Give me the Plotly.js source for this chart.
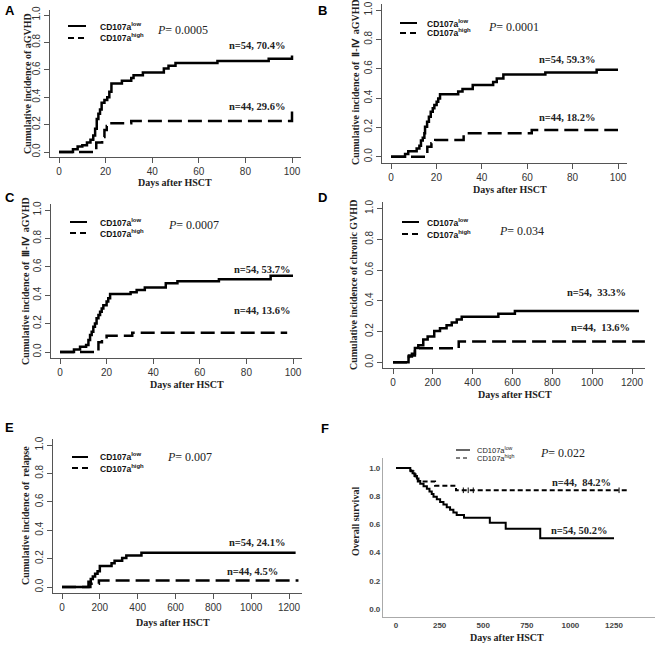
<!DOCTYPE html>
<html><head><meta charset="utf-8">
<script src="https://cdn.plot.ly/plotly-3.0.1.min.js"></script>
<style>html,body{margin:0;padding:0;background:#fff}</style>
</head><body><div id="chart" style="width:661px;height:645px"></div>
<script>
// ---- data ----
const seriesNames = ["CD107a<sup>low</sup>", "CD107a<sup>high</sup>"];
const panelLetters = ["A","B","C","D","E","F"];
const pValues = ["0.0005","0.0001","0.0007","0.034","0.007","0.022"];
const yTitles = ["Cumulative incidence of aGVHD","Cumulative incidence of \u00a0Ⅱ-Ⅳ\u00a0 aGVHD","Cumulative incidence of \u00a0Ⅲ-Ⅳ\u00a0 aGVHD","Cumulative incidence of chronic GVHD","Cumulative incidence of \u00a0relapse","Overall survival"];
const xTitle = "Days after HSCT";
const lowLabels = ["n=54, 70.4%","n=54, 59.3%","n=54, 53.7%","n=54, \u00a033.3%","n=54, 24.1%","n=54, 50.2%"];
const highLabels = ["n=44, 29.6%","n=44, 18.2%","n=44, 13.6%","n=44, \u00a013.6%","n=44, 4.5%","n=44, \u00a084.2%"];

const aLowX = [0, 6, 8, 10, 12, 13.5, 14.7, 15.5, 16.2, 16.9, 17.6, 18.3, 19.5, 20.7, 21.6, 22.5, 27, 31, 32, 36, 45, 47, 50, 68, 90, 100];
const aLowY = [0, 0.02, 0.04, 0.05, 0.07, 0.09, 0.12, 0.17, 0.24, 0.28, 0.31, 0.36, 0.38, 0.40, 0.44, 0.50, 0.52, 0.54, 0.56, 0.58, 0.61, 0.63, 0.65, 0.665, 0.68, 0.704];
const aHighX = [0, 16, 18.5, 19.5, 20.5, 21.3, 31, 100];
const aHighY = [0, 0.07, 0.11, 0.16, 0.19, 0.21, 0.227, 0.296];

const bLowX = [0, 6.2, 7.6, 11.3, 12.5, 13.2, 14.0, 14.7, 15.0, 15.9, 16.7, 17.5, 18.4, 19.1, 20.1, 20.8, 21.6, 29.6, 31.5, 36, 45, 46.6, 49.5, 68, 90.6, 100];
const bLowY = [0, 0.019, 0.037, 0.056, 0.074, 0.111, 0.13, 0.16, 0.204, 0.238, 0.272, 0.306, 0.33, 0.352, 0.374, 0.397, 0.426, 0.444, 0.461, 0.488, 0.51, 0.533, 0.56, 0.574, 0.593, 0.593];
const bHighX = [0, 16, 17.8, 19.5, 32, 62, 100];
const bHighY = [0, 0.068, 0.091, 0.114, 0.159, 0.182, 0.182];

const cLowX = [0, 6, 8.6, 11.2, 12.2, 12.9, 13.6, 14.3, 15.0, 15.7, 16.5, 17.2, 17.9, 18.6, 20.0, 20.7, 21.5, 30.3, 32.9, 36.4, 45.4, 50.4, 68.2, 90.4, 100];
const cLowY = [0, 0.017, 0.037, 0.05, 0.085, 0.12, 0.143, 0.178, 0.2, 0.237, 0.26, 0.284, 0.307, 0.33, 0.355, 0.378, 0.408, 0.42, 0.437, 0.455, 0.484, 0.498, 0.512, 0.537, 0.537];
const cHighX = [0, 16.5, 18, 20, 31, 97.5];
const cHighY = [0, 0.068, 0.09, 0.114, 0.136, 0.136];

const dLowX = [0, 78, 95, 110, 127, 152, 174, 207, 236, 269, 295, 320, 345, 529, 612, 1235];
const dLowY = [0, 0.037, 0.056, 0.093, 0.111, 0.148, 0.167, 0.204, 0.222, 0.241, 0.259, 0.278, 0.296, 0.315, 0.333, 0.333];
const dHighX = [0, 80, 110, 330, 1265];
const dHighY = [0, 0.045, 0.091, 0.136, 0.136];

const eLowX = [0, 140, 152, 163, 175, 188, 200, 262, 278, 318, 340, 420, 1235];
const eLowY = [0, 0.037, 0.056, 0.074, 0.093, 0.111, 0.148, 0.167, 0.185, 0.204, 0.222, 0.241, 0.241];
const eHighX = [0, 150, 195, 1250];
const eHighY = [0, 0.023, 0.045, 0.045];

const fLowX = [0, 82, 95, 106, 120, 129, 139, 158, 177, 192, 205, 215, 234, 253, 272, 291, 310, 329, 348, 390, 538, 629, 827, 1250];
const fLowY = [1, 0.981, 0.963, 0.944, 0.926, 0.907, 0.889, 0.87, 0.852, 0.833, 0.815, 0.796, 0.778, 0.759, 0.741, 0.722, 0.704, 0.685, 0.667, 0.648, 0.611, 0.57, 0.502, 0.502];
const fHighX = [0, 85, 100, 112, 125, 224, 344, 1337];
const fHighY = [1, 0.977, 0.955, 0.932, 0.905, 0.875, 0.842, 0.842];
const fHighCensorX = [386, 414, 443, 1279];

const xTicks100 = [0, 20, 40, 60, 80, 100];
const xTicks1200 = [0, 200, 400, 600, 800, 1000, 1200];
const xTicks1250 = [0, 250, 500, 750, 1000, 1250];
const yTicks = [0, 0.2, 0.4, 0.6, 0.8, 1.0];

// ---- layout helpers ----
const W = 661, H = 645;
function xdom(pa, va, pb, vb, r){ const s=(pb-pa)/(vb-va); return [(pa+(r[0]-va)*s)/W, (pa+(r[1]-va)*s)/W]; }
function ydom(pa, va, pb, vb, r){ const s=(pb-pa)/(vb-va); return [1-(pa+(r[0]-va)*s)/H, 1-(pa+(r[1]-va)*s)/H]; }
const SERIF = "Liberation Serif, Times New Roman, serif";
const SANS = "Liberation Sans, Arial, sans-serif";

const panels = [
  {lx:aLowX, ly:aLowY, hx:aHighX, hy:aHighY, xm:[59,0,292,100], xr:[-4,104], ym:[152,0,15,1], yr:[-0.04,1.04], xt:xTicks100},
  {lx:bLowX, ly:bLowY, hx:bHighX, hy:bHighY, xm:[391,0,618,100], xr:[-4,104], ym:[156.7,0,10,1], yr:[-0.04,1.04], xt:xTicks100},
  {lx:cLowX, ly:cLowY, hx:cHighX, hy:cHighY, xm:[60,0,293,100], xr:[-4,104], ym:[352,0,210,1], yr:[-0.04,1.04], xt:xTicks100},
  {lx:dLowX, ly:dLowY, hx:dHighX, hy:dHighY, xm:[393,0,632,1200], xr:[-50,1265], ym:[362.3,0,208.5,1], yr:[-0.04,1.04], xt:xTicks1200},
  {lx:eLowX, ly:eLowY, hx:eHighX, hy:eHighY, xm:[62,0,289,1200], xr:[-48,1267], ym:[587,0,445,1], yr:[-0.04,1.04], xt:xTicks1200},
  {lx:fLowX, ly:fLowY, hx:fHighX, hy:fHighY, xm:[396,0,614,1250], xr:[-75,1485], ym:[609,0,468,1], yr:[-0.057,1.07], xt:xTicks1250, spss:true}
];

const data = [];
const layout = {width:W, height:H, margin:{l:0,r:0,t:0,b:0}, paper_bgcolor:'#fff', plot_bgcolor:'rgba(0,0,0,0)', showlegend:false, annotations:[], shapes:[]};

panels.forEach((p, i) => {
  const n = i + 1;
  const xa = n === 1 ? 'x' : 'x' + n, ya = n === 1 ? 'y' : 'y' + n;
  const xk = n === 1 ? 'xaxis' : 'xaxis' + n, yk = n === 1 ? 'yaxis' : 'yaxis' + n;
  const lw = p.spss ? 2 : 2.5;
  data.push({x:p.lx, y:p.ly, xaxis:xa, yaxis:ya, mode:'lines', line:{shape:'hv', color:'#000', width:lw}, name:seriesNames[0], hoverinfo:'skip'});
  data.push({x:p.hx, y:p.hy, xaxis:xa, yaxis:ya, mode:'lines', line:{shape:'hv', color:'#000', width:lw, dash: p.spss ? '5px,3px' : '14px,6px'}, name:seriesNames[1], hoverinfo:'skip'});
  if (p.spss) {
    data.push({x:fHighCensorX, y:fHighCensorX.map(() => fHighY[fHighY.length-1]), xaxis:xa, yaxis:ya, mode:'markers', marker:{symbol:'line-ns-open', size:4, color:'#000', line:{width:1, color:'#000'}}, hoverinfo:'skip'});
  }
  const common = {showgrid:false, zeroline:false, showline:true, fixedrange:true};
  if (!p.spss) {
    layout[xk] = Object.assign({}, common, {anchor:ya, range:p.xr, domain:xdom(...p.xm, p.xr), linecolor:'#555', linewidth:1, ticks:'outside', ticklen:5, tickcolor:'#555', tickvals:p.xt, tickfont:{family:SANS, size:10, color:'#333'}});
    layout[yk] = Object.assign({}, common, {anchor:xa, range:p.yr, domain:ydom(...p.ym, p.yr), linecolor:'#555', linewidth:1, ticks:'outside', ticklen:5, tickcolor:'#555', tickvals:yTicks, tickformat:'.1f', tickangle:-90, tickfont:{family:SANS, size:10, color:'#333'}});
  } else {
    layout[xk] = Object.assign({}, common, {anchor:ya, range:p.xr, domain:xdom(...p.xm, p.xr), linecolor:'#aaa', linewidth:1, ticks:'', tickvals:p.xt, tickfont:{family:SANS, size:8, color:'#444', weight:'bold'}});
    layout[yk] = Object.assign({}, common, {anchor:xa, range:p.yr, domain:ydom(...p.ym, p.yr), linecolor:'#aaa', linewidth:1, ticks:'', tickvals:yTicks, tickformat:'.1f', tickfont:{family:SANS, size:8, color:'#444', weight:'bold'}});
  }
});

// text placement in pixels
function ann(px, py, text, font, opts){
  layout.annotations.push(Object.assign({xref:'paper', yref:'paper', x:px/W, y:1-py/H, text:text, showarrow:false, font:font, xanchor:'left', yanchor:'middle'}, opts||{}));
}
function seg(x0, x1, y, dash, w){
  layout.shapes.push({type:'line', xref:'paper', yref:'paper', x0:x0/W, x1:x1/W, y0:1-y/H, y1:1-y/H, line:{color:'#000', width:w, dash:dash}});
}
const letterFont = {family:SANS, size:13, color:'#000', weight:'bold'};
const titleFont = {family:SERIF, size:10, color:'#222', weight:'bold'};
const nFont = {family:SERIF, size:10.5, color:'#222', weight:'bold'};
const pFont = {family:SERIF, size:12, color:'#222'};
const legFont = {family:SANS, size:8.5, color:'#111', weight:'bold'};

// positions: letter, ytitle, legend, P, n-labels, xtitle
const pos = [
  {L:[10,11], yt:[27,84], leg:[68,86,26,38,98], P:[155,30], n1:[287,45], n2:[287,107], xt:[175,183]},
  {L:[322,10], yt:[355,82], leg:[400,417,23,33,425], P:[486,27], n1:[597,60], n2:[597,117], xt:[510,189]},
  {L:[10,197], yt:[25,281], leg:[70,87,222,233,98], P:[166,225], n1:[292,269], n2:[292,310], xt:[187,385]},
  {L:[322,197], yt:[353,285], leg:[402,419,222,234,425], P:[497,231], n1:[628,292], n2:[632,327], xt:[515,394]},
  {L:[9,427], yt:[25,516], leg:[72,88,457,468,98], P:[165,457], n1:[287,542], n2:[280,571], xt:[173,622]},
  {L:[325,428], yt:[355,522], leg:[456,470,450,458,475], P:[538,453], n1:[613,482], n2:[609,530], xt:[507,637]}
];
pos.forEach((q, i) => {
  const spss = i === 5;
  ann(q.L[0], q.L[1], panelLetters[i], letterFont, {xanchor:'center'});
  ann(q.yt[0], q.yt[1], yTitles[i], titleFont, {xanchor:'center', textangle:-90});
  ann(q.xt[0], q.xt[1], xTitle, titleFont, {xanchor:'center'});
  const lg = q.leg;
  seg(lg[0], lg[1], lg[2], 'solid', spss ? 1.2 : 2);
  seg(lg[0], lg[1], lg[3], spss ? '4px,3px' : '6px,4px', spss ? 1.2 : 2);
  const lf = spss ? {family:SANS, size:7.5, color:'#222'} : legFont;
  ann(lg[4], lg[2], seriesNames[0], lf);
  ann(lg[4], lg[3], seriesNames[1], lf);
  ann(q.P[0], q.P[1], '<i>P</i>= ' + pValues[i], pFont);
  const topLab = spss ? highLabels[i] : lowLabels[i];
  const botLab = spss ? lowLabels[i] : highLabels[i];
  ann(q.n1[0], q.n1[1], topLab, nFont, {xanchor:'right'});
  ann(q.n2[0], q.n2[1], botLab, nFont, {xanchor:'right'});
});

Plotly.newPlot('chart', data, layout, {displayModeBar:false, staticPlot:true});
</script></body></html>
